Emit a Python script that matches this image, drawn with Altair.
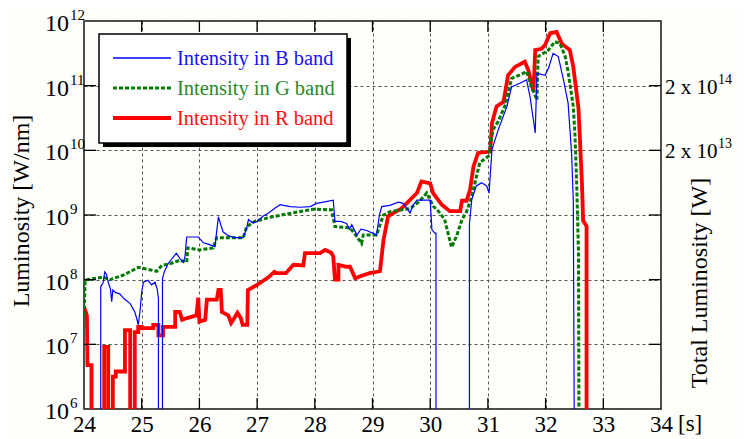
import altair as alt
import pandas as pd

# ---- data (time [s], log10 luminosity [W/nm]); 5 = drop below axis floor
B_t = [24.29, 24.29, 24.33, 24.36, 24.39, 24.42, 24.46, 24.48, 24.50, 24.55, 24.62, 24.70, 24.80, 24.85,
       24.88, 24.92, 24.94, 24.97, 25.00, 25.03, 25.11, 25.17, 25.23, 25.27, 25.29, 25.29, 25.36, 25.36,
       25.40, 25.46, 25.60, 25.66, 25.72, 25.75, 25.78, 25.98, 26.07, 26.15, 26.27, 26.30, 26.33, 26.37,
       26.41, 26.50, 26.60, 26.76, 26.82, 26.85, 26.92, 27.00, 27.10, 27.20, 27.30, 27.40, 27.57, 27.75,
       27.92, 28.03, 28.15, 28.32, 28.35, 28.45, 28.55, 28.60, 28.64, 28.73, 28.80, 28.90, 29.00, 29.07,
       29.12, 29.16, 29.30, 29.45, 29.53, 29.60, 29.65, 29.70, 29.77, 30.00, 30.03, 30.08, 30.10, 30.10,
       30.68, 30.68, 30.72, 30.80, 30.89, 30.98, 31.02, 31.07, 31.18, 31.33, 31.41, 31.56, 31.67, 31.73,
       31.80, 31.82, 31.85, 31.99, 32.05, 32.13, 32.22, 32.31, 32.39, 32.45, 32.48, 32.50]
B_lg = [5, 7.89, 7.95, 8.12, 8.08, 7.96, 7.85, 7.66, 7.84, 7.80, 7.78, 7.70, 7.63, 7.55,
        7.50, 7.38, 7.30, 7.50, 7.81, 7.96, 7.99, 7.92, 7.96, 7.85, 7.71, 5, 5, 8.02,
        8.14, 8.25, 8.41, 8.33, 8.27, 8.35, 8.66, 8.66, 8.57, 8.55, 8.51, 8.75, 8.97, 8.85,
        8.74, 8.68, 8.65, 8.65, 8.80, 8.93, 8.88, 8.90, 8.98, 9.03, 9.10, 9.16, 9.13, 9.12,
        9.13, 9.18, 9.20, 9.23, 8.90, 8.90, 8.87, 8.78, 8.85, 8.69, 8.78, 8.76, 8.72, 8.69,
        9.00, 9.13, 9.15, 9.20, 9.18, 9.10, 9.03, 9.15, 9.23, 9.23, 8.77, 8.72, 8.72, 5,
        5, 8.86, 9.24, 9.45, 9.50, 9.45, 9.34, 10.01, 10.32, 10.68, 10.98, 11.04, 11.09, 10.83,
        10.40, 10.27, 11.19, 11.16, 11.27, 11.50, 11.45, 11.09, 10.73, 9.96, 9.22, 5]

G_t = [24.00, 24.02, 24.05, 24.33, 24.45, 24.68, 24.94, 25.10, 25.26, 25.35, 25.50, 25.66, 25.78, 25.80,
       26.00, 26.24, 26.30, 26.76, 26.82, 26.96, 27.20, 27.60, 27.97, 28.29, 28.35, 28.61, 28.70, 28.81,
       28.84, 29.07, 29.19, 29.30, 29.65, 29.80, 29.94, 30.05, 30.15, 30.25, 30.37, 30.46, 30.55, 30.63,
       30.72, 30.86, 31.01, 31.09, 31.18, 31.30, 31.41, 31.61, 31.67, 31.75, 31.85, 31.87, 32.05, 32.16,
       32.25, 32.34, 32.39, 32.48, 32.51, 32.54, 32.57, 32.58]
G_lg = [7.45, 7.99, 8.00, 8.04, 8.00, 8.07, 8.19, 8.16, 8.13, 8.22, 8.25, 8.30, 8.27, 8.49,
        8.46, 8.49, 8.65, 8.65, 8.82, 8.90, 8.96, 9.03, 9.09, 9.08, 8.82, 8.80, 8.70, 8.56,
        8.69, 8.69, 9.00, 9.05, 9.10, 9.20, 9.34, 9.14, 9.05, 8.93, 8.50, 8.68, 8.93, 9.05,
        9.29, 9.81, 9.91, 10.32, 10.45, 10.70, 11.11, 11.19, 11.22, 11.00, 10.78, 11.45, 11.55, 11.68,
        11.65, 11.45, 11.22, 10.68, 10.22, 9.45, 8.42, 5]

R_t = [24.00, 24.05, 24.06, 24.13, 24.13, 24.35, 24.35, 24.42, 24.42, 24.50, 24.50, 24.55, 24.55, 24.71,
       24.71, 24.80, 24.80, 24.88, 24.88, 24.94, 24.94, 25.00, 25.00, 25.20, 25.20, 25.29, 25.29, 25.37,
       25.37, 25.58, 25.58, 25.66, 25.70, 25.80, 25.95, 25.98, 26.00, 26.10, 26.13, 26.30, 26.33, 26.37,
       26.39, 26.50, 26.55, 26.60, 26.66, 26.72, 26.75, 26.83, 26.84, 27.00, 27.10, 27.20, 27.30, 27.34,
       27.50, 27.63, 27.80, 27.83, 28.09, 28.18, 28.28, 28.32, 28.35, 28.41, 28.41, 28.55, 28.61, 28.70,
       28.81, 28.95, 29.13, 29.19, 29.27, 29.36, 29.50, 29.59, 29.77, 29.85, 30.00, 30.05, 30.20, 30.34,
       30.52, 30.55, 30.63, 30.69, 30.75, 30.83, 31.04, 31.07, 31.15, 31.27, 31.35, 31.47, 31.64, 31.70,
       31.79, 31.82, 31.93, 31.99, 32.08, 32.19, 32.28, 32.42, 32.48, 32.57, 32.63, 32.65, 32.71, 32.71]
R_lg = [7.58, 7.45, 6.68, 6.68, 5, 5, 6.96, 6.96, 5, 5, 6.50, 6.50, 6.58, 6.58,
        7.22, 7.22, 5, 5, 7.19, 7.19, 7.27, 7.27, 7.25, 7.25, 7.30, 7.30, 7.14, 7.14,
        7.27, 7.27, 7.50, 7.50, 7.38, 7.41, 7.45, 7.72, 7.35, 7.38, 7.69, 7.69, 7.84, 7.84,
        7.50, 7.45, 7.33, 7.40, 7.49, 7.40, 7.30, 7.30, 7.84, 7.92, 7.98, 8.04, 8.12, 8.10,
        8.10, 8.23, 8.22, 8.41, 8.41, 8.46, 8.42, 8.36, 8.00, 8.00, 8.23, 8.20, 8.20, 8.02,
        8.06, 8.10, 8.13, 8.61, 8.98, 9.03, 9.10, 9.18, 9.34, 9.52, 9.49, 9.34, 9.16, 9.06,
        9.06, 9.22, 9.22, 9.39, 9.75, 9.96, 9.98, 10.42, 10.68, 10.75, 11.16, 11.29, 11.37, 11.24,
        10.91, 11.55, 11.57, 11.63, 11.81, 11.83, 11.65, 11.55, 11.29, 10.65, 9.50, 8.91, 8.83, 5]

series_names = ["Intensity in B band", "Intensity in G band", "Intensity in R band"]
series_colors = ["#0000ff", "#007a00", "#ff0000"]
legend_text_colors = ["#1414f0", "#2a8a2a", "#ff1010"]

x_ticks = list(range(24, 35))
x_inner = list(range(25, 34))
y_exp = [6, 7, 8, 9, 10, 11, 12]
y_inner_exp = [7, 8, 9, 10, 11]
right_label_exp = [11, 10]            # left-scale positions of right-hand labels
right_label_text = ["2 x 10", "2 x 10"]
right_label_sup = ["14", "13"]

W, H = 577, 388
FONT = "Liberation Serif"

xscale = alt.Scale(domain=[24, 34], nice=False, zero=False)
yscale = alt.Scale(type="log", domain=[1e6, 1e12], nice=False)
xaxis = alt.Axis(values=x_ticks, grid=True, gridDash=[3, 3], gridColor="#555555", gridWidth=1,
                 ticks=False, tickSize=0, domain=False, labelFont=FONT, labelFontSize=23,
                 labelColor="black", labelPadding=4, labelFlush=False, labelOverlap=False,
                 labelBound=False, title=None, format="d")
yaxis = alt.Axis(values=[10.0 ** e for e in y_exp], grid=True, gridDash=[3, 3], gridColor="#555555",
                 gridWidth=1, labels=False, ticks=False, tickSize=0, domain=False, title=None)


def series_df(t, lg):
    return pd.DataFrame({"t": t, "v": [10.0 ** g for g in lg], "i": list(range(len(t)))})


def line_layer(t, lg, color, width, dash=None):
    kw = dict(clip=True, color=color, strokeWidth=width, strokeJoin="miter")
    if dash:
        kw["strokeDash"] = dash
    return alt.Chart(series_df(t, lg)).mark_line(**kw).encode(
        x=alt.X("t:Q", scale=xscale, axis=xaxis),
        y=alt.Y("v:Q", scale=yscale, axis=yaxis),
        order="i:Q",
    )


red = line_layer(R_t, R_lg, series_colors[2], 3.8)
green = line_layer(G_t, G_lg, series_colors[1], 3, [4, 2])
blue = line_layer(B_t, B_lg, series_colors[0], 1.2)

# inward ticks
xt = pd.DataFrame({"t": x_inner})
yt = pd.DataFrame({"v": [10.0 ** e for e in y_inner_exp]})
tick_bottom = alt.Chart(xt).mark_rule(color="black", strokeWidth=1.3).encode(
    x=alt.X("t:Q", scale=xscale, axis=xaxis), y=alt.value(H), y2=alt.value(H - 11))
tick_top = alt.Chart(xt).mark_rule(color="black", strokeWidth=1.3).encode(
    x=alt.X("t:Q", scale=xscale, axis=xaxis), y=alt.value(0), y2=alt.value(11))
tick_left = alt.Chart(yt).mark_rule(color="black", strokeWidth=1.3).encode(
    y=alt.Y("v:Q", scale=yscale, axis=yaxis), x=alt.value(0), x2=alt.value(12))
tick_right = alt.Chart(yt).mark_rule(color="black", strokeWidth=1.3).encode(
    y=alt.Y("v:Q", scale=yscale, axis=yaxis), x=alt.value(W), x2=alt.value(W - 12))

# left tick labels 10^n
yl = pd.DataFrame({"v": [10.0 ** e for e in y_exp], "base": ["10"] * len(y_exp),
                   "sup": [str(e) for e in y_exp]})
ylab_base = alt.Chart(yl).mark_text(font=FONT, fontSize=24, align="right", baseline="middle",
                                    dy=3, color="black").encode(
    y=alt.Y("v:Q", scale=yscale, axis=yaxis), x=alt.value(-15), text="base:N")
ylab_sup = alt.Chart(yl).mark_text(font=FONT, fontSize=15, align="left", baseline="middle",
                                   dy=-6, color="black").encode(
    y=alt.Y("v:Q", scale=yscale, axis=yaxis), x=alt.value(-14), text="sup:N")

# right labels
rl = pd.DataFrame({"v": [10.0 ** e for e in right_label_exp], "base": right_label_text,
                   "sup": right_label_sup})
rlab_base = alt.Chart(rl).mark_text(font=FONT, fontSize=21, align="left", baseline="middle",
                                    dy=2, color="black").encode(
    y=alt.Y("v:Q", scale=yscale, axis=yaxis), x=alt.value(W + 4), text="base:N")
rlab_sup = alt.Chart(rl).mark_text(font=FONT, fontSize=14, align="left", baseline="middle",
                                   dy=-6, color="black").encode(
    y=alt.Y("v:Q", scale=yscale, axis=yaxis), x=alt.value(W + 57), text="sup:N")

one = pd.DataFrame({"k": [0]})
unit_s = alt.Chart(one).mark_text(font=FONT, fontSize=23, align="left", baseline="top",
                                  color="black").encode(
    x=alt.value(W + 17), y=alt.value(H + 4), text=alt.value("[s]"))
title_left = alt.Chart(one).mark_text(font=FONT, fontSize=24, angle=270, align="center",
                                      baseline="middle", color="black").encode(
    x=alt.value(-62), y=alt.value(190), text=alt.value("Luminosity [W/nm]"))
title_right = alt.Chart(one).mark_text(font=FONT, fontSize=24, angle=270, align="center",
                                       baseline="middle", color="black").encode(
    x=alt.value(W + 39), y=alt.value(262), text=alt.value("Total Luminosity [W]"))

# legend box
leg_shadow = alt.Chart(one).mark_rect(color="black").encode(
    x=alt.value(19), x2=alt.value(267), y=alt.value(17), y2=alt.value(126))
leg_box = alt.Chart(one).mark_rect(fill="white", stroke="black", strokeWidth=1.5).encode(
    x=alt.value(15), x2=alt.value(263), y=alt.value(13), y2=alt.value(122))
leg_rows = [37, 67, 97]
leg_widths = [1.5, 3, 4]
leg_dash = [None, [4, 2], None]
leg_layers = []
for k in range(3):
    kw = dict(color=series_colors[k], strokeWidth=leg_widths[k])
    if leg_dash[k]:
        kw["strokeDash"] = leg_dash[k]
    leg_layers.append(alt.Chart(one).mark_rule(**kw).encode(
        x=alt.value(29), x2=alt.value(87), y=alt.value(leg_rows[k])))
    leg_layers.append(alt.Chart(one).mark_text(font=FONT, fontSize=20.5, align="left",
                                               baseline="middle", color=legend_text_colors[k]).encode(
        x=alt.value(93), y=alt.value(leg_rows[k] + 1), text=alt.value(series_names[k])))

chart = alt.layer(
    red, green, blue,
    tick_bottom, tick_top, tick_left, tick_right,
    ylab_base, ylab_sup, rlab_base, rlab_sup, unit_s, title_left, title_right,
    leg_shadow, leg_box, *leg_layers,
).properties(
    width=W, height=H,
    autosize=alt.AutoSizeParams(type="none"),
    padding={"left": 76, "top": 13, "right": 77, "bottom": 30},
    background="#fefefb",
).configure_view(stroke="#111111", strokeWidth=1.5)

chart.save("out.html", embed_options={"renderer": "svg", "actions": False})
